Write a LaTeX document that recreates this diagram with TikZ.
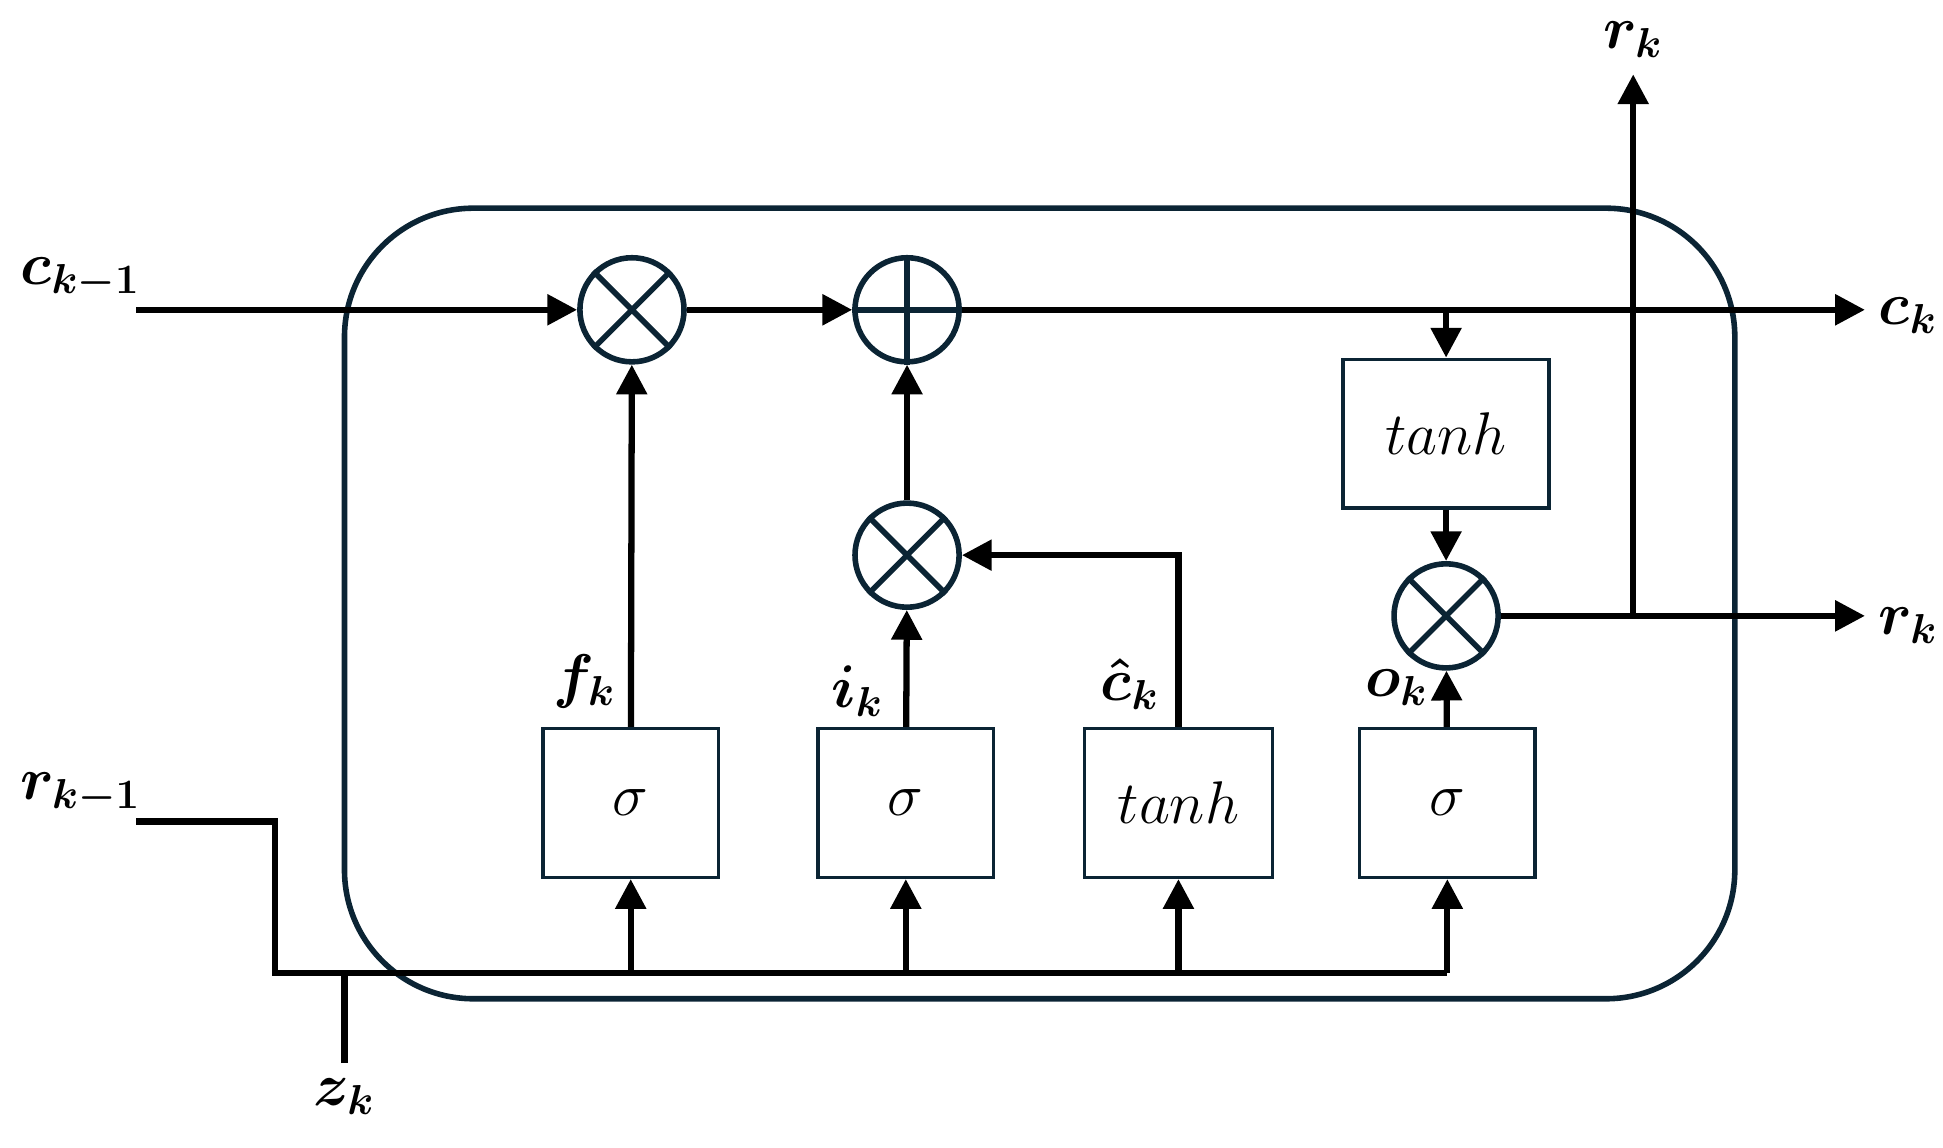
\documentclass[tikz,border=0pt]{standalone}
\usepackage{amsmath}
\usepackage{amssymb}
\usepackage{bm}
\usetikzlibrary{arrows.meta,positioning}
\definecolor{navy}{HTML}{0B2434}
\tikzstyle{gate} = [rectangle, draw=navy, line width=1pt, minimum width=1.77cm, minimum height=1.5cm, font=\LARGE]
\tikzstyle{op} = [circle, draw=navy, line width=1.6pt, minimum size=1.05cm, inner sep=0pt]
\tikzstyle{flow} = [line width=1.8pt, -{Triangle[length=0.3cm,width=0.3cm]}]
\tikzstyle{wire} = [line width=1.8pt]
\tikzstyle{lbl} = [font=\LARGE]
\begin{document}
\begin{tikzpicture}[x=0.0125cm, y=-0.0125cm]
\useasboundingbox (0,0) rectangle (1568,926);
\draw[navy, line width=1.6pt, rounded corners=1.3cm] (278,168) rectangle (1400,806);
% operators
\node(M1)[op] at (510,250) {};
\node(P1)[op] at (732,250) {};
\node(M2)[op] at (732,448) {};
\node(M3)[op] at (1167,497) {};
\foreach \n in {M1,M2,M3}
  \draw[navy, line width=1.6pt] (\n.north west)--(\n.south east) (\n.north east)--(\n.south west);
\draw[navy, line width=1.6pt] (P1.north)--(P1.south) (P1.west)--(P1.east);
% gates
\node(F)[gate] at (509,648) {$\sigma$};
\node(I)[gate] at (731,648) {$\sigma$};
\node(C)[gate, minimum width=1.9cm] at (951,648) {$tanh$};
\node(O)[gate] at (1168,648) {$\sigma$};
\node(T)[gate, minimum width=2.08cm] at (1167,350) {$tanh$};
% inputs and outputs
\node(cin)[lbl] at (65,225) {$\bm{c_{k-1}}$};
\node(rin)[lbl] at (65,640) {$\bm{r_{k-1}}$};
\node(zin)[lbl] at (278,885) {$\bm{z_k}$};
\node(cout)[lbl] at (1540,255) {$\bm{c_k}$};
\node(rout)[lbl] at (1540,505) {$\bm{r_k}$};
\node(rtop)[lbl] at (1318,32) {$\bm{r_k}$};
\coordinate(c0) at (110,250);
\coordinate(c1) at (1505,250);
\coordinate(r0) at (110,663);
\coordinate(r1) at (1505,497);
\coordinate(r2) at (1318,60);
\coordinate(rs) at (1318,497);
\coordinate(z0) at (278,858);
\coordinate(b0) at (222,785);
\coordinate(b1) at (1168,785);
\coordinate(z1) at (278,785);
\coordinate(tt) at (1167,250);
% gate labels
\node[lbl] at (472,550) {$\bm{f_k}$};
\node[lbl] at (692,558) {$\bm{i_k}$};
\node[lbl] at (912,552) {$\bm{\hat{c}_k}$};
\node[lbl] at (1127,555) {$\bm{o_k}$};
% cell state
\draw[flow] (c0)--(M1);
\draw[flow] (M1)--(P1);
\draw[flow] (P1)--(c1);
\draw[flow] (tt)--(T);
% bus
\draw[wire] (r0)-|(b0)--(b1);
\draw[wire] (z0)--(z1);
\draw[flow] (F.south|-b0)--(F);
\draw[flow] (I.south|-b0)--(I);
\draw[flow] (C.south|-b0)--(C);
\draw[flow] (b1)--(O);
% gates to operators
\draw[flow] (F)--(M1);
\draw[flow] (I)--(M2);
\draw[flow] (C.north)|-(M2);
\draw[flow] (M2)--(P1);
\draw[flow] (O)--(M3);
\draw[flow] (T)--(M3);
\draw[flow] (M3)--(r1);
\draw[flow] (rs)--(r2);
\end{tikzpicture}
\end{document}
